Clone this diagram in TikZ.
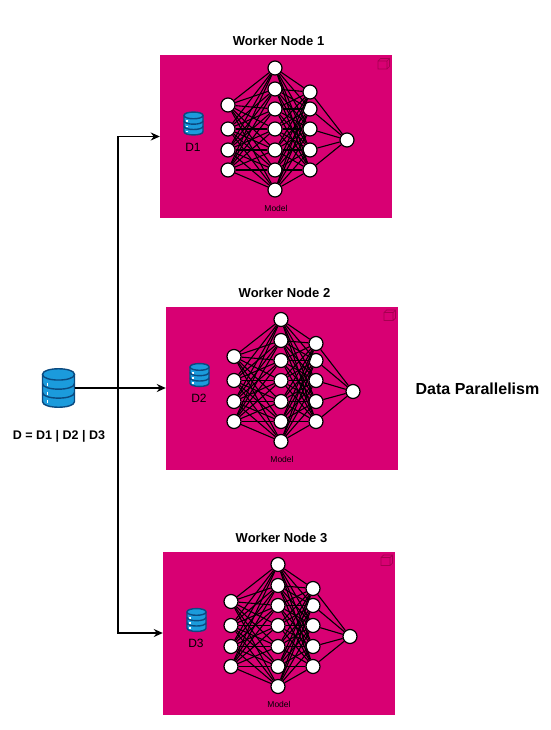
\documentclass[tikz,border=0pt]{standalone}
\usepackage{fontspec}
\setmainfont{Liberation Sans}
\usetikzlibrary{arrows.meta}
\definecolor{workerpink}{HTML}{D80073}
\definecolor{cubepink}{HTML}{A50050}
\definecolor{dbblue}{HTML}{1B9BDC}
\definecolor{dbnavy}{HTML}{0B4A80}

\tikzset{
      dbicon/.pic={
            \node[inner sep=0, outer sep=0, minimum width=2pt, minimum height=2.44pt, transform shape] (-body) at (0,0) {};
            \fill[dbblue] (-1,-0.85) -- (-1,0.85) .. controls (-1,1.32) and (1,1.32) .. (1,0.85) -- (1,-0.85)
                  .. controls (1,-1.32) and (-1,-1.32) .. (-1,-0.85) -- cycle;
            % highlights
            \foreach \y in {-0.34,0.22,0.74}
                  \draw[white, line width=1.6pt] (-0.7,\y) -- (-0.7,\y+0.2);
            % outline and bands
            \draw[dbnavy, line width=1.4pt] (-1,-0.85) -- (-1,0.85) .. controls (-1,1.32) and (1,1.32) .. (1,0.85) -- (1,-0.85);
            \draw[dbnavy, line width=1.4pt] (-1,-0.85) .. controls (-1,-1.32) and (1,-1.32) .. (1,-0.85)
                  .. controls (1,-0.38) and (-1,-0.38) .. (-1,-0.85) -- cycle;
            \foreach \y in {-0.28,0.28}
                  \draw[dbnavy, line width=1.4pt] (-1,\y) .. controls (-1,\y+0.47) and (1,\y+0.47) .. (1,\y);
      }
}

\begin{document}
\begin{tikzpicture}[
            x=1pt, y=-1pt,
            title/.style={font=\bfseries\fontsize{13}{15}\selectfont, inner sep=0},
            workerbox/.style={fill=workerpink, minimum width=232pt, minimum height=163pt, inner sep=0},
            neuron/.style={draw, fill=white, circle, line width=1.2pt, minimum size=14pt, inner sep=0},
            link/.style={line width=1.1pt},
            arrow/.style={-{Stealth[length=9pt, width=8pt]}, line width=1.5pt}
      ]
      \useasboundingbox (0,0) rectangle (550,730);

      % Workers
      \foreach \w/\dx/\dy in {1/0/0, 2/6/251.5, 3/3/496.5} {
            \begin{scope}[shift={(\dx,\dy)}]
                  \node[title] (title\w) at (278.5,41) {Worker Node \w};
                  \node[workerbox] (worker\w) at (276,136.5) {};

                  % corner cube
                  \draw[cubepink, line width=0.7pt] (378,61) rectangle (387,69)
                        (378,61) -- (380.5,58.5) -- (389.5,58.5) -- (389.5,66.5) -- (387,69)
                        (387,61) -- (389.5,58.5);

                  \pic[scale=9.5] (dbsmall\w) at (193.5,123.5) {dbicon};
                  \node[font=\fontsize{12}{14}\selectfont, inner sep=0] (dlabel\w) at (193,147) {D\w};
                  \node[font=\fontsize{8.5}{10}\selectfont, inner sep=0] (model\w) at (276,208) {Model};

                  % Layers
                  \foreach \n/\y in {1/105, 2/129, 3/150, 4/170}
                        \node[neuron] (in\w-\n) at (228,\y) {};
                  \foreach \n/\y in {1/68, 2/89, 3/109, 4/129, 5/150, 6/170, 7/190}
                        \node[neuron] (hida\w-\n) at (275,\y) {};
                  \foreach \n/\y in {1/92, 2/109, 3/129, 4/150, 5/170}
                        \node[neuron] (hidb\w-\n) at (310,\y) {};
                  \node[neuron] (out\w) at (347,140) {};

                  \foreach \a in {1,...,4}
                        \foreach \b in {1,...,7}
                              \draw[link] (in\w-\a) -- (hida\w-\b);
                  \foreach \a in {1,...,7}
                        \foreach \b in {1,...,5}
                              \draw[link] (hida\w-\a) -- (hidb\w-\b);
                  \foreach \a in {1,...,5}
                        \draw[link] (hidb\w-\a) -- (out\w);
            \end{scope}
      }

      % Source data
      \pic[scale=16] (dbmain) at (58.5,388) {dbicon};
      \node[title, font=\bfseries\fontsize{12.5}{15}\selectfont] (dlabel) at (59,436) {D = D1 | D2 | D3};
      \node[font=\bfseries\fontsize{16}{18}\selectfont, inner sep=0] (parallel) at (477.5,389) {Data Parallelism};
      \coordinate (trunk) at (118,388);

      \draw[arrow] (dbmain-body.east) -- (trunk) |- (worker1.west);
      \draw[arrow] (dbmain-body.east) -- (worker2.west);
      \draw[arrow] (dbmain-body.east) -- (trunk) |- (worker3.west);
\end{tikzpicture}
\end{document}
